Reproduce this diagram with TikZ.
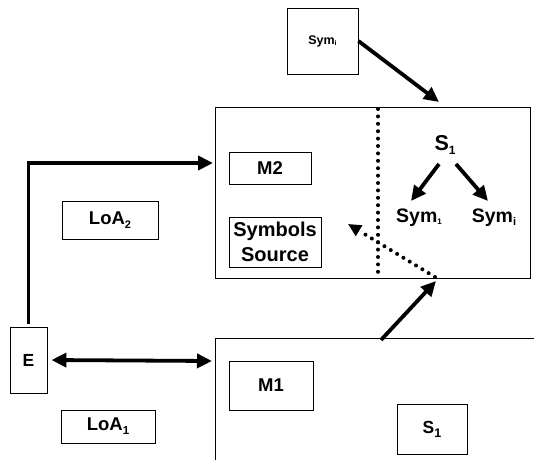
\documentclass[tikz,border=0pt]{standalone}
\usepackage{fontspec}
\setmainfont{Liberation Sans}
\usetikzlibrary{arrows.meta,calc}
\newcommand\fsz[1]{\fontsize{#1}{#1}\selectfont}
\newcommand\subx[3][0.22em]{\raisebox{-#1}{\fsz{#2}#3}}
\tikzset{
  box/.style={draw, line width=0.9pt, rectangle, inner sep=0pt, font=\bfseries\fsz{18.5}},
  lbl/.style={inner sep=0pt, font=\bfseries\fsz{19.5}},
  tip/.style={-{Triangle[length=15pt,width=14pt]}},
  thick arrow/.style={line width=3.8pt, tip},
  dots/.style={line width=4pt, line cap=round, dash pattern=on 0pt off 7.4pt}
}
\begin{document}
\begin{tikzpicture}[x=1pt,y=-1pt]
\useasboundingbox (0,0) rectangle (534,459);
% top small box
\node[box, minimum width=71pt, minimum height=66pt, font=\bfseries\fsz{12.5}] (symtop) at (322.5,41) {Sym\subx[0.15em]{7}{i}};
% upper large box
\node[box, minimum width=315pt, minimum height=171pt] (upper) at (372.5,192.5) {};
\node[box, minimum width=82pt, minimum height=32pt] (m2) at (270,168) {M2};
\node[box, minimum width=92pt, minimum height=50pt, align=center, font=\bfseries\fontsize{20}{27}\selectfont] (src) at (275,242) {Symbols\\[-2pt]Source};
\node[lbl, font=\bfseries\fsz{21.5}] (s1) at (445,145) {S\subx{12}{1}};
\node[lbl] (sym1) at (419,218) {Sym\subx[0.1em]{8}{1}};
\node[lbl] (symi) at (494,218) {Sym\subx[0.15em]{11}{i}};
% dotted divider
\coordinate (dv1) at (378,109);
\coordinate (dv2) at (378,274);
\draw[dots] (dv1) -- (dv2);
% left labels and E
\node[box, minimum width=96pt, minimum height=38pt] (loa2) at (110,220) {LoA\subx{11}{2}};
\node[box, minimum width=37pt, minimum height=66pt, font=\bfseries\fsz{17.5}] (e) at (28.5,360) {E};
\node[box, minimum width=94pt, minimum height=33pt] (loa1) at (108,426.5) {LoA\subx{11.5}{1}};
% lower large box (partly outside)
\coordinate (lowtl) at (215,338);
\draw[line width=0.9pt] (215,470) -- (lowtl) -- (545,338);
\node[box, minimum width=84pt, minimum height=49pt] (m1) at (271,385.5) {M1};
\node[box, minimum width=70pt, minimum height=50pt, font=\bfseries\fsz{17.5}] (s1b) at (432,429) {S\subx{12.5}{1}};
% connectors
\coordinate (t1) at (439,102);
\draw[thick arrow] (symtop.east) -- (t1);
\coordinate (a1) at (439,164);
\coordinate (a2) at (456,164);
\draw[thick arrow] (a1) -- (411,201);
\draw[thick arrow] (a2) -- (488,201);
\coordinate (corner) at (28.5,163);
\coordinate (t2) at (213,163);
\draw[thick arrow, line join=miter, shorten <=3pt] (e.north) -- (corner) -- (t2);
\coordinate (lowl) at (212,361);
\draw[line width=3.8pt, {Triangle[length=15pt,width=14pt]}-{Triangle[length=15pt,width=14pt]}] (e.east) ++(4,0) -- (lowl);
\coordinate (m1from) at (381,340);
\coordinate (m1to) at (436,281);
\draw[thick arrow] (m1from) -- (m1to);
% dotted arrow
\coordinate (dstart) at (435,277);
\coordinate (dend) at (348,224);
\draw[dots] (dstart) -- ($(dstart)!0.86!(dend)$);
\draw[line width=3pt, -{Triangle[length=13pt,width=12pt]}] ($(dstart)!0.88!(dend)$) -- (dend);
\end{tikzpicture}
\end{document}
